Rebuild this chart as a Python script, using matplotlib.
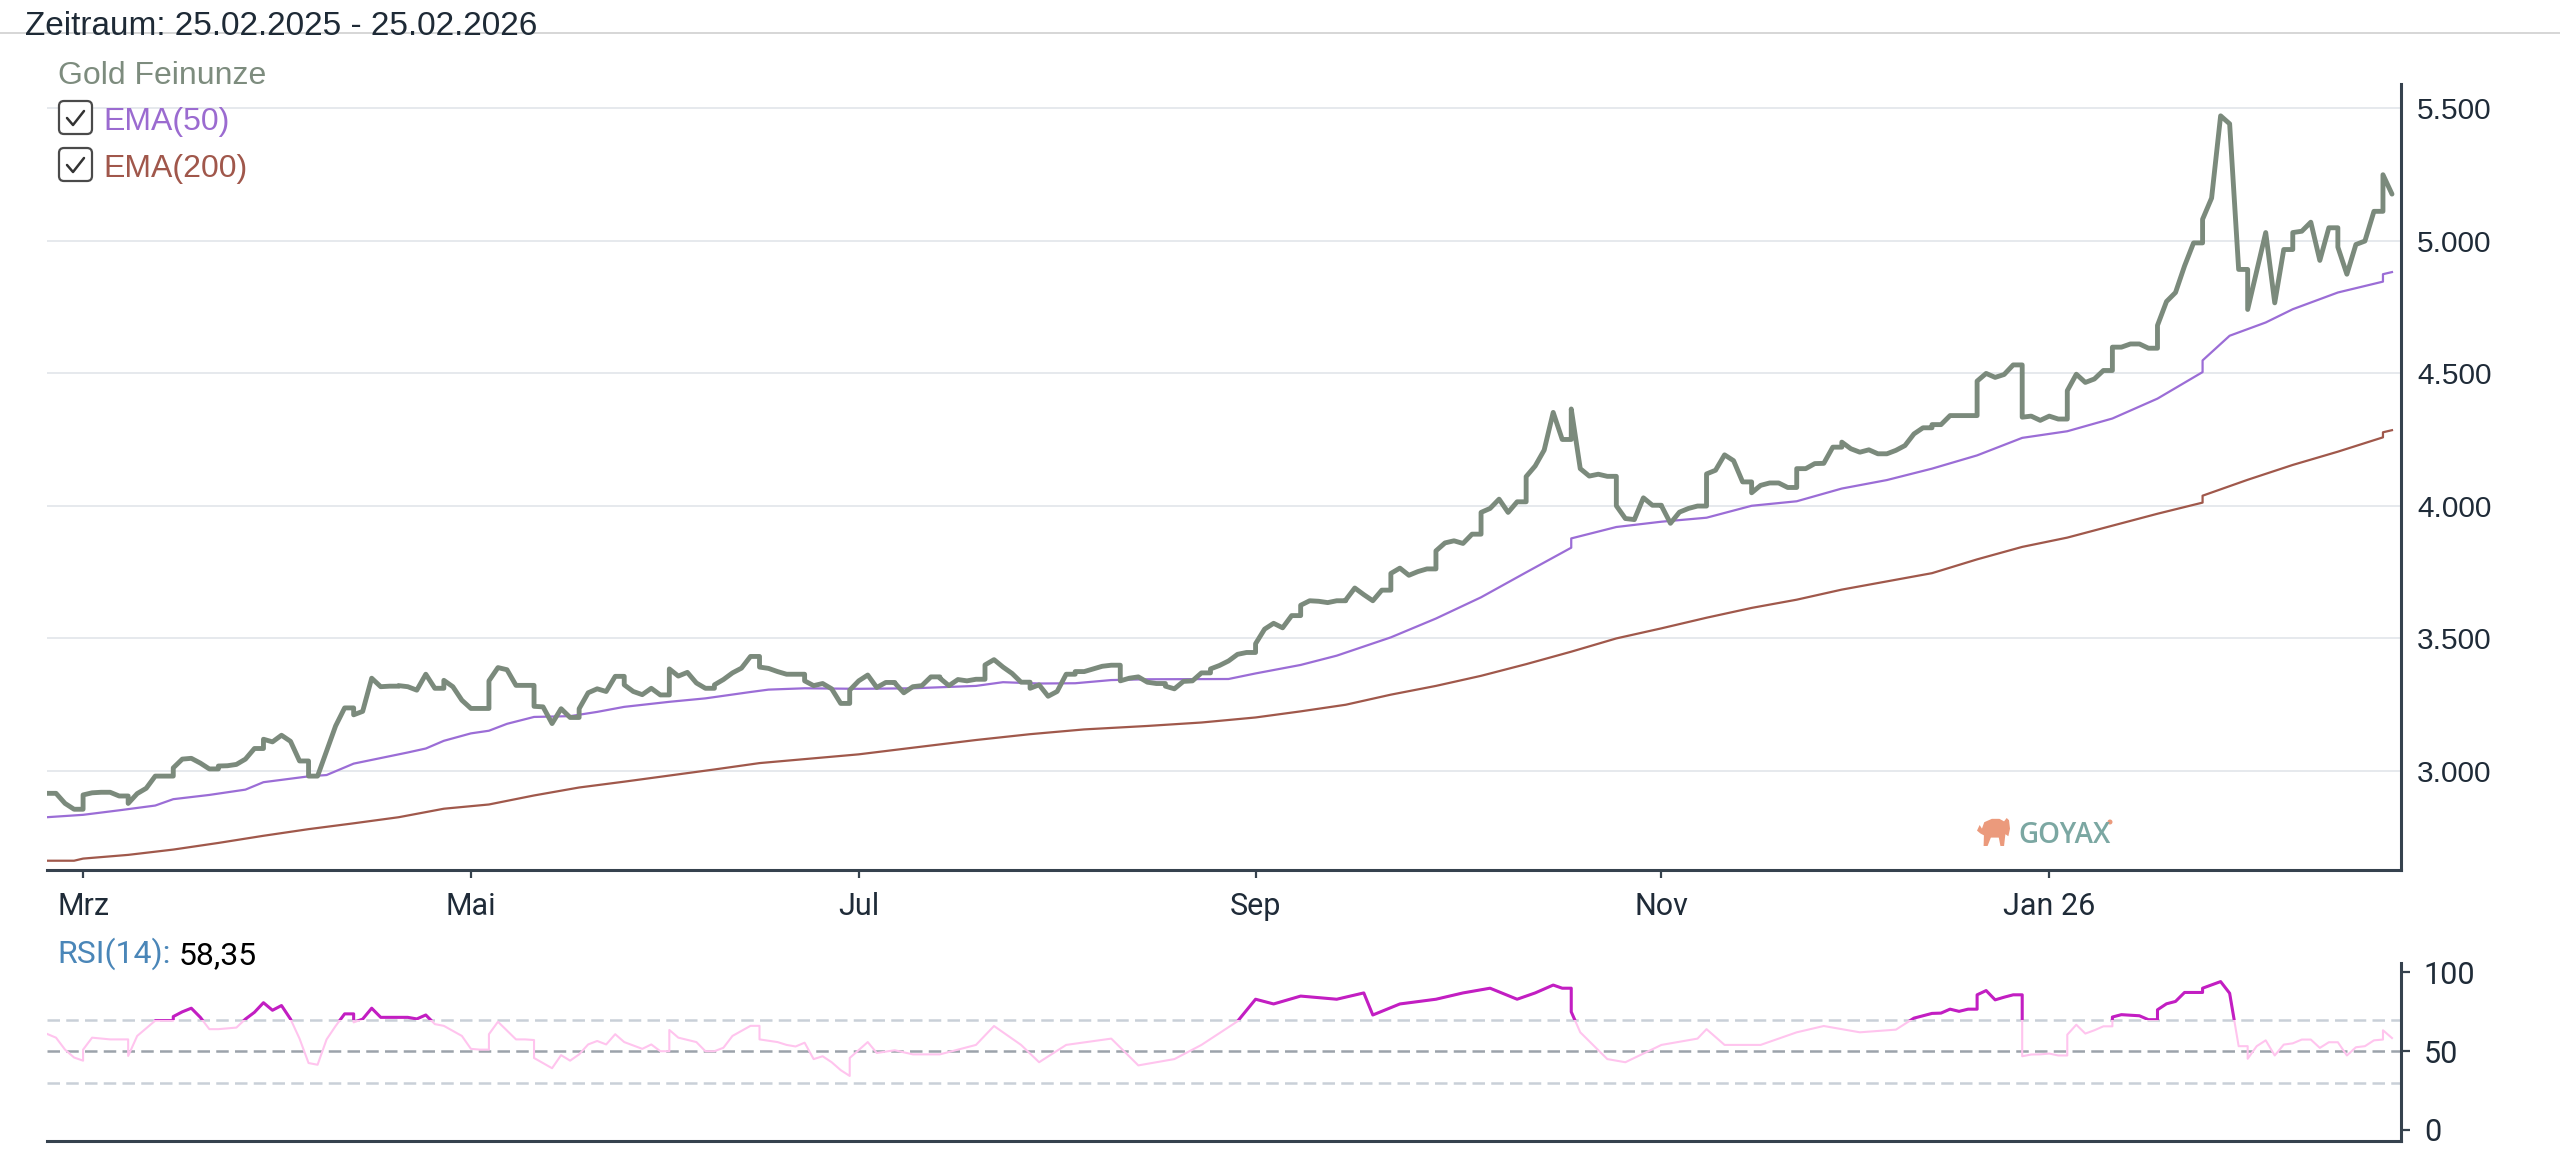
import numpy as np
import pandas as pd
import matplotlib
matplotlib.use("Agg")
import matplotlib.pyplot as plt
from matplotlib.patches import FancyBboxPatch, Polygon, Rectangle
from matplotlib.lines import Line2D
from matplotlib.ticker import FuncFormatter

plt.rcParams['font.family'] = ['Liberation Sans', 'DejaVu Sans']

# ==========================================
# Data
# ==========================================
start = "2025-02-25"

# gold price, one value per business day, one row per week
gold_prices = [
    2916, 2916, 2878, 2856,
    2910, 2918, 2920, 2920, 2906,
    2878, 2915, 2935, 2981, 2981,
    3012, 3045, 3048, 3030, 3008,
    3019, 3020, 3025, 3045, 3085,
    3120, 3110, 3135, 3112, 3038,
    2981, 2981, 3075, 3170, 3238,
    3212, 3225, 3350, 3318, 3320,
    3322, 3318, 3305, 3365, 3312,
    3342, 3318, 3267, 3236, 3236,
    3340, 3390, 3382, 3323, 3323,
    3244, 3242, 3179, 3235, 3202,
    3235, 3295, 3310, 3300, 3357,
    3325, 3300, 3288, 3312, 3287,
    3385, 3358, 3372, 3332, 3312,
    3325, 3345, 3370, 3388, 3432,
    3392, 3387, 3375, 3365, 3365,
    3340, 3322, 3330, 3310, 3255,
    3305, 3340, 3362, 3315, 3334,
    3332, 3295, 3318, 3322, 3355,
    3350, 3322, 3345, 3340, 3346,
    3400, 3420, 3392, 3368, 3335,
    3312, 3325, 3282, 3300, 3365,
    3375, 3375, 3385, 3395, 3399,
    3340, 3350, 3355, 3335, 3330,
    3320, 3310, 3338, 3340, 3370,
    3385, 3398, 3415, 3440, 3447,
    3480, 3535, 3557, 3540, 3586,
    3625, 3642, 3640, 3635, 3642,
    3645, 3690, 3665, 3642, 3682,
    3745, 3765, 3738, 3752, 3762,
    3830, 3860, 3868, 3858, 3893,
    3975, 3990, 4025, 3975, 4015,
    4110, 4150, 4210, 4352, 4250,
    4365, 4140, 4112, 4119, 4111,
    4000, 3952, 3948, 4030, 4002,
    4000, 3934, 3976, 3990, 3999,
    4120, 4134, 4192, 4170, 4090,
    4049, 4077, 4086, 4086, 4069,
    4140, 4140, 4159, 4160, 4221,
    4240, 4215, 4202, 4211, 4196,
    4196, 4209, 4227, 4271, 4294,
    4306, 4306, 4340, 4340, 4340,
    4470, 4499, 4484, 4495, 4531,
    4334, 4338, 4322, 4338, 4327,
    4434, 4496, 4465, 4478, 4510,
    4598, 4598, 4610, 4610, 4594,
    4680, 4770, 4804, 4904, 4991,
    5080, 5160, 5470, 5440, 4891,
    4740, 4885, 5030, 4765, 4966,
    5030, 5035, 5069, 4925, 5048,
    4975, 4873, 4985, 4998, 5110,
    5248, 5175,
]

ema50_dates = [
    "2025-02-25", "2025-03-03", "2025-03-07", "2025-03-13", "2025-03-17", "2025-03-21",
    "2025-03-27", "2025-03-31", "2025-04-07", "2025-04-09", "2025-04-14", "2025-04-22",
    "2025-04-24", "2025-04-28", "2025-05-01", "2025-05-05", "2025-05-07", "2025-05-12",
    "2025-05-16", "2025-05-21", "2025-05-26", "2025-06-02", "2025-06-06", "2025-06-13",
    "2025-06-17", "2025-06-23", "2025-07-01", "2025-07-09", "2025-07-18", "2025-07-23",
    "2025-07-29", "2025-08-04", "2025-08-08", "2025-08-14", "2025-08-27", "2025-09-01",
    "2025-09-08", "2025-09-12", "2025-09-22", "2025-09-29", "2025-10-06", "2025-10-13",
    "2025-10-18", "2025-10-20", "2025-10-27", "2025-11-03", "2025-11-10", "2025-11-17",
    "2025-11-24", "2025-12-01", "2025-12-08", "2025-12-15", "2025-12-22", "2025-12-29",
    "2026-01-05", "2026-01-12", "2026-01-19", "2026-01-24", "2026-01-26", "2026-01-29",
    "2026-02-02", "2026-02-04", "2026-02-09", "2026-02-16", "2026-02-21", "2026-02-23",
    "2026-02-24",
]
ema50_values = [
    2826, 2835, 2852, 2870, 2894, 2910,
    2930, 2958, 2980, 2985, 3028, 3070,
    3085, 3114, 3142, 3152, 3178, 3204,
    3207, 3223, 3242, 3261, 3274, 3298,
    3307, 3312, 3310, 3312, 3321, 3335,
    3330, 3331, 3343, 3346, 3347, 3368,
    3400, 3435, 3504, 3575, 3655, 3749,
    3842, 3877, 3920, 3940, 3955, 4000,
    4017, 4065, 4097, 4140, 4190, 4256,
    4281, 4329, 4404, 4504, 4548, 4641,
    4666, 4691, 4741, 4804, 4845, 4873,
    4881,
]

ema200_dates = [
    "2025-02-25", "2025-02-28", "2025-03-03", "2025-03-10", "2025-03-17", "2025-03-24",
    "2025-03-31", "2025-04-07", "2025-04-14", "2025-04-21", "2025-04-28", "2025-05-05",
    "2025-05-12", "2025-05-19", "2025-05-26", "2025-06-02", "2025-06-09", "2025-06-16",
    "2025-06-23", "2025-07-01", "2025-07-09", "2025-07-18", "2025-07-28", "2025-08-05",
    "2025-08-14", "2025-08-22", "2025-09-01", "2025-09-08", "2025-09-15", "2025-09-22",
    "2025-09-29", "2025-10-06", "2025-10-13", "2025-10-20", "2025-10-27", "2025-11-03",
    "2025-11-10", "2025-11-17", "2025-11-24", "2025-12-01", "2025-12-08", "2025-12-15",
    "2025-12-22", "2025-12-29", "2026-01-05", "2026-01-12", "2026-01-19", "2026-01-24",
    "2026-01-26", "2026-02-02", "2026-02-09", "2026-02-16", "2026-02-21", "2026-02-23",
    "2026-02-24",
]
ema200_values = [
    2662, 2662, 2670, 2684, 2704, 2729,
    2756, 2781, 2803, 2826, 2858, 2874,
    2908, 2938, 2960, 2983, 3006, 3030,
    3045, 3063, 3088, 3117, 3139, 3157,
    3170, 3183, 3202, 3225, 3250, 3288,
    3321, 3359, 3403, 3450, 3500, 3538,
    3578, 3615, 3646, 3684, 3715, 3746,
    3798, 3845, 3880, 3925, 3970, 4012,
    4038, 4098, 4154, 4204, 4258, 4277,
    4285,
]

rsi_dates = [
    "2025-02-25", "2025-02-26", "2025-02-27", "2025-02-28", "2025-03-01", "2025-03-03",
    "2025-03-04", "2025-03-06", "2025-03-07", "2025-03-08", "2025-03-10", "2025-03-11",
    "2025-03-13", "2025-03-14", "2025-03-15", "2025-03-17", "2025-03-18", "2025-03-19",
    "2025-03-20", "2025-03-21", "2025-03-24", "2025-03-26", "2025-03-27", "2025-03-28",
    "2025-03-31", "2025-04-01", "2025-04-02", "2025-04-03", "2025-04-04", "2025-04-07",
    "2025-04-08", "2025-04-09", "2025-04-10", "2025-04-11", "2025-04-12", "2025-04-14",
    "2025-04-15", "2025-04-16", "2025-04-17", "2025-04-22", "2025-04-23", "2025-04-24",
    "2025-04-25", "2025-04-28", "2025-04-30", "2025-05-01", "2025-05-02", "2025-05-03",
    "2025-05-05", "2025-05-06", "2025-05-08", "2025-05-09", "2025-05-10", "2025-05-12",
    "2025-05-14", "2025-05-15", "2025-05-16", "2025-05-19", "2025-05-20", "2025-05-21",
    "2025-05-22", "2025-05-23", "2025-05-26", "2025-05-28", "2025-05-29", "2025-05-30",
    "2025-05-31", "2025-06-02", "2025-06-03", "2025-06-05", "2025-06-06", "2025-06-09",
    "2025-06-10", "2025-06-11", "2025-06-12", "2025-06-13", "2025-06-14", "2025-06-16",
    "2025-06-18", "2025-06-19", "2025-06-20", "2025-06-23", "2025-06-24", "2025-06-25",
    "2025-06-26", "2025-06-27", "2025-06-28", "2025-06-30", "2025-07-02", "2025-07-03",
    "2025-07-07", "2025-07-09", "2025-07-14", "2025-07-18", "2025-07-22", "2025-07-25",
    "2025-07-29", "2025-08-01", "2025-08-08", "2025-08-13", "2025-08-19", "2025-08-22",
    "2025-08-28", "2025-09-01", "2025-09-03", "2025-09-08", "2025-09-12", "2025-09-17",
    "2025-09-18", "2025-09-23", "2025-09-29", "2025-10-02", "2025-10-07", "2025-10-10",
    "2025-10-14", "2025-10-16", "2025-10-17", "2025-10-18", "2025-10-20", "2025-10-21",
    "2025-10-24", "2025-10-28", "2025-11-03", "2025-11-07", "2025-11-10", "2025-11-12",
    "2025-11-18", "2025-11-24", "2025-11-27", "2025-12-03", "2025-12-09", "2025-12-11",
    "2025-12-12", "2025-12-15", "2025-12-16", "2025-12-17", "2025-12-18", "2025-12-19",
    "2025-12-20", "2025-12-22", "2025-12-23", "2025-12-24", "2025-12-25", "2025-12-26",
    "2025-12-27", "2025-12-29", "2025-12-30", "2025-12-31", "2026-01-01", "2026-01-02",
    "2026-01-03", "2026-01-05", "2026-01-06", "2026-01-07", "2026-01-08", "2026-01-09",
    "2026-01-10", "2026-01-12", "2026-01-13", "2026-01-15", "2026-01-16", "2026-01-17",
    "2026-01-19", "2026-01-20", "2026-01-21", "2026-01-22", "2026-01-23", "2026-01-24",
    "2026-01-26", "2026-01-28", "2026-01-29", "2026-01-30", "2026-01-31", "2026-02-02",
    "2026-02-03", "2026-02-04", "2026-02-05", "2026-02-06", "2026-02-09", "2026-02-10",
    "2026-02-11", "2026-02-12", "2026-02-13", "2026-02-16", "2026-02-17", "2026-02-18",
    "2026-02-19", "2026-02-20", "2026-02-21", "2026-02-23", "2026-02-24",
]
rsi_values = [
    61, 58.6, 51, 46, 44, 51,
    58.6, 57.5, 57.5, 57.5, 47, 59.7,
    69.4, 69.4, 69.4, 72, 75, 77.3,
    71.5, 64, 64, 65, 70.4, 74.7,
    80.8, 76, 79, 70.4, 58, 42.5,
    41.4, 57.5, 66, 73.7, 73.7, 68.3,
    70.4, 77.3, 71.5, 71.5, 70.5, 73,
    67.2, 66.1, 59.7, 51.5, 51, 51,
    60.8, 68.7, 57.5, 57.5, 57.1, 45.7,
    39.2, 47.5, 44, 48, 54.3, 56.5,
    54.3, 60.8, 55.8, 51.5, 54.3, 50,
    50, 63.5, 58.6, 55.8, 50, 50,
    52.2, 59.7, 62.9, 66.1, 66.1, 57.5,
    55.8, 54, 53, 55.4, 45, 46.8,
    43, 38, 34.3, 45.7, 55.8, 48.9,
    50.6, 48, 48, 54, 66, 54,
    43, 54, 58, 41, 45, 54,
    69, 83, 80, 85, 83, 87,
    73, 80, 83, 87, 90, 83,
    87, 92, 90, 90, 75, 62,
    45, 43, 54, 58, 64, 54,
    54, 62, 66, 62, 63.7, 71,
    72.5, 74, 74.2, 76.7, 75.3, 76.7,
    76.7, 85.8, 88.5, 82.6, 84.3, 85.8,
    85.8, 46.8, 47.9, 48, 48.5, 47.3,
    47.3, 60.5, 66.8, 61.2, 63.3, 65.8,
    65.8, 71.7, 73.2, 72.5, 70, 70,
    76.3, 80.1, 81.6, 87.3, 87.3, 87.3,
    90, 94.2, 86.8, 53.2, 53.2, 45.2,
    53.2, 56.9, 47.3, 54.2, 55, 57.4,
    57.4, 52.1, 55.7, 55.7, 47.3, 52.5,
    53.2, 56.9, 57.4, 63.3, 58.35,
]
rsi_last = "58,35"
rsi_levels = [30, 50, 70]

tick_dates = ["2025-03-01", "2025-05-01", "2025-07-01", "2025-09-01", "2025-11-01", "2026-01-01"]
tick_labels = ["Mrz", "Mai", "Jul", "Sep", "Nov", "Jan 26"]
price_ticks = [3000, 3500, 4000, 4500, 5000, 5500]
rsi_ticks = [0, 50, 100]


def bx(dates):
    # position on the trading-day axis: weekends fall onto the next Monday
    return np.busday_count(np.datetime64(start), np.array(dates, dtype="datetime64[D]"))


# the feed repeats Friday's close over the weekend
bdays = pd.bdate_range(start, periods=len(gold_prices))
gold = pd.Series(gold_prices, index=bdays)
gold = gold.reindex(pd.date_range(bdays[0], bdays[-1], freq="D")).ffill()
gold_x = bx(gold.index.values.astype("datetime64[D]"))

n_days = 261
axis_col = "#36424e"
text_col = "#1f2b38"

# ==========================================
# Figure
# ==========================================
fig = plt.figure(figsize=(25.6, 11.52), dpi=100)
fig.patch.set_facecolor("white")

ax = fig.add_axes([47 / 2560, 1 - 870 / 1152, 2354 / 2560, 786 / 1152])
ax.plot(gold_x, gold.values, color="#7b8a7c", lw=3.5, solid_joinstyle="round",
        solid_capstyle="round", zorder=4)
ax.plot(bx(ema50_dates), ema50_values, color="#9b6dd6", lw=1.6, zorder=3)
ax.plot(bx(ema200_dates), ema200_values, color="#a0584b", lw=1.6, zorder=3)
ax.set_xlim(0, n_days)
ax.set_ylim(2627, 5590)

ax.yaxis.tick_right()
ax.set_yticks(price_ticks)
ax.yaxis.set_major_formatter(FuncFormatter(lambda v, p: f"{v:,.0f}".replace(",", ".")))
ax.tick_params(axis="y", length=0, pad=11.5, labelsize=21.5, labelcolor=text_col)
ax.grid(axis="y", color="#e6e9ed", lw=1.4)
ax.set_axisbelow(True)

ax.set_xticks(bx(tick_dates))
ax.set_xticklabels(tick_labels, fontfamily="Roboto", fontsize=22, color=text_col)
ax.tick_params(axis="x", length=6, width=1.6, color=axis_col, pad=10)
for side in ["top", "left"]:
    ax.spines[side].set_visible(False)
for side in ["right", "bottom"]:
    ax.spines[side].set_color(axis_col)
    ax.spines[side].set_linewidth(2.2)

# RSI panel
ax2 = fig.add_axes([47 / 2560, 1 - 1141 / 1152, 2354 / 2560, 178 / 1152])
for lvl in rsi_levels:
    ax2.axhline(lvl, color="#9ca3ab" if lvl == 50 else "#c9d0d8", lw=1.8,
                ls=(0, (5, 2.5)), zorder=1)
rsi_x = bx(rsi_dates)
ax2.plot(rsi_x, rsi_values, color="#ffc4ee", lw=1.5, zorder=2)
hot, = ax2.plot(rsi_x, rsi_values, color="#c21ec2", lw=2.2, zorder=3)
hot.set_clip_path(Rectangle((0, 70), n_days, 50, transform=ax2.transData))
ax2.set_xlim(0, n_days)
ax2.set_ylim(-7, 106)
ax2.set_xticks([])
ax2.yaxis.tick_right()
ax2.set_yticks(rsi_ticks)
ax2.set_yticklabels([str(t) for t in rsi_ticks], fontfamily="Roboto", fontsize=22, color=text_col)
ax2.tick_params(axis="y", length=6.5, width=1.6, color=axis_col, pad=10)
for side in ["top", "left"]:
    ax2.spines[side].set_visible(False)
for side in ["right", "bottom"]:
    ax2.spines[side].set_color(axis_col)
    ax2.spines[side].set_linewidth(2.2)

# ==========================================
# Header, legend, logo (pixel overlay)
# ==========================================
ov = fig.add_axes([0, 0, 1, 1])
ov.set_xlim(0, 2560)
ov.set_ylim(1152, 0)
ov.axis("off")
ov.patch.set_visible(False)

ov.add_line(Line2D([0, 2560], [33, 33], color="#cfcfcf", lw=1.2, zorder=1))
ov.text(25, 35, "Zeitraum: 25.02.2025 - 25.02.2026", fontsize=24, color="#1e2a36",
        va="baseline", zorder=2)

ov.text(58, 84, "Gold Feinunze", fontsize=23, color="#7d8c7e", va="baseline")
legend_items = [("EMA(50)", "#9b6bd0", 100), ("EMA(200)", "#a0574b", 147)]
for label, col, top in legend_items:
    ov.add_patch(FancyBboxPatch((59, top + 1), 33, 33, boxstyle="round,pad=0,rounding_size=5",
                                fc="white", ec="#4a4a4a", lw=1.6))
    ov.add_line(Line2D([67, 73, 84], [top + 18, top + 25, top + 11], color="#333333",
                       lw=1.8, solid_capstyle="round"))
    ov.text(103, top + 30, label, fontsize=23, color=col, va="baseline")

t1 = ov.text(57, 963, "RSI(14):", fontfamily="Roboto", fontsize=23, color="#4a86b8",
             va="baseline")
ov.annotate(rsi_last, xy=(1, 0), xycoords=t1, xytext=(6, 0), textcoords="offset points",
            fontfamily="Roboto", fontsize=23, color="black", va="bottom")

# GOYAX watermark
bull = np.array([
    [0.00, 0.55], [0.08, 0.75], [0.15, 0.62], [0.22, 0.85], [0.45, 0.97], [0.68, 0.97],
    [0.82, 0.88], [0.90, 1.00], [0.97, 0.92], [1.00, 0.62], [0.95, 0.35], [0.86, 0.42],
    [0.82, 0.00], [0.71, 0.00], [0.66, 0.30], [0.42, 0.30], [0.32, 0.00], [0.20, 0.00],
    [0.21, 0.38], [0.10, 0.45],
])
ov.add_patch(Polygon(np.column_stack([1977 + bull[:, 0] * 33, 846 - bull[:, 1] * 28]),
                     closed=True, fc="#eb9a7c", ec="none"))
ov.text(2018, 843, "GOYAX", fontfamily="Open Sans", fontweight="semibold", fontsize=20,
        color="#7ba7a2", va="baseline")
ov.add_patch(plt.Circle((2110, 822), 2.5, fc="#eb9a7c", ec="none"))

fig.savefig("out.png", dpi=100)
